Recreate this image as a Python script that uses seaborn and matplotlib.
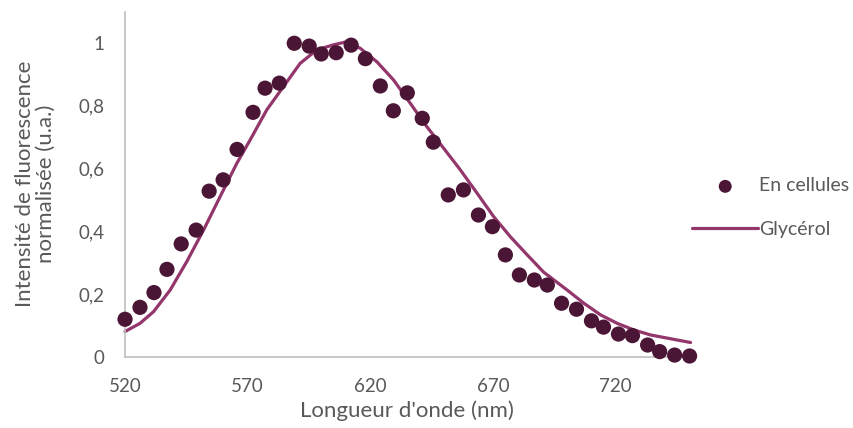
import pandas as pd
import matplotlib.pyplot as plt
import seaborn as sns

# --- data ---
cell_nm = [520.0, 526.1, 531.8, 537.1, 542.9, 549.0, 554.3, 560.0, 565.7, 572.2,
           577.1, 582.9, 589.0, 595.1, 600.0, 606.1, 612.2, 618.0, 624.1, 629.4,
           635.1, 641.2, 645.7, 651.8, 658.0, 664.1, 669.8, 675.1, 680.8, 686.9,
           692.2, 698.0, 704.1, 710.2, 715.1, 721.2, 726.9, 733.1, 738.0, 744.1,
           750.2]
cell_int = [0.120, 0.158, 0.205, 0.279, 0.360, 0.404, 0.528, 0.564, 0.661, 0.779,
            0.856, 0.872, 0.999, 0.990, 0.965, 0.969, 0.993, 0.950, 0.863, 0.784,
            0.841, 0.760, 0.684, 0.516, 0.532, 0.452, 0.415, 0.325, 0.261, 0.245,
            0.229, 0.171, 0.152, 0.115, 0.095, 0.073, 0.068, 0.038, 0.017, 0.006,
            0.003]

glyc_nm = [520.0, 526.1, 531.6, 538.4, 545.2, 552.0, 558.8, 565.6, 571.0, 577.8,
           584.6, 591.4, 598.2, 605.0, 610.5, 615.9, 622.7, 629.5, 636.3, 643.1,
           649.9, 656.7, 663.6, 670.3, 677.1, 684.0, 690.7, 700.3, 707.1, 713.9,
           720.7, 727.5, 734.3, 741.1, 750.6]
glyc_int = [0.081, 0.107, 0.144, 0.213, 0.304, 0.404, 0.511, 0.617, 0.691, 0.787,
            0.861, 0.935, 0.978, 0.994, 1.004, 0.983, 0.940, 0.882, 0.808, 0.733,
            0.665, 0.596, 0.521, 0.447, 0.383, 0.325, 0.270, 0.213, 0.171, 0.134,
            0.107, 0.086, 0.070, 0.060, 0.046]

x_ticks = [520, 570, 620, 670, 720]
y_ticks = [0, 0.2, 0.4, 0.6, 0.8, 1.0]
y_tick_labels = ['0', '0,2', '0,4', '0,6', '0,8', '1']

df_cells = pd.DataFrame({'nm': cell_nm, 'val': cell_int})
df_glyc = pd.DataFrame({'nm': glyc_nm, 'val': glyc_int})

sns.set_style('white')
plt.rcParams['font.family'] = ['Lato', 'DejaVu Sans']

grey = '#595959'
dot_color = '#4b1535'
line_color = '#93366b'

fig = plt.figure(figsize=(8.54, 4.28), dpi=100)
ax = fig.add_axes([0.1464, 0.166, 0.6605, 0.807])

sns.lineplot(data=df_glyc, x='nm', y='val', ax=ax, color=line_color,
             linewidth=2.3, label='Glycérol', zorder=2, clip_on=False)
sns.scatterplot(data=df_cells, x='nm', y='val', ax=ax, color=dot_color,
                s=120, edgecolor='none', label='En cellules', zorder=3,
                clip_on=False)

ax.set_xlim(520, 750)
ax.set_ylim(0, 1.1)
ax.set_xticks(x_ticks)
ax.set_yticks(y_ticks)
ax.set_yticklabels(y_tick_labels)
ax.tick_params(axis='both', length=0, labelsize=13.5, labelcolor=grey)
ax.tick_params(axis='x', pad=15)
ax.tick_params(axis='y', pad=15)

for side in ['top', 'right']:
    ax.spines[side].set_visible(False)
for side in ['left', 'bottom']:
    ax.spines[side].set_color('#bfbfbf')
    ax.spines[side].set_linewidth(1.2)

ax.set_xlabel("Longueur d'onde (nm)", fontsize=16, color=grey, labelpad=4)
ax.set_ylabel('Intensité de fluorescence\nnormalisée (u.a.)', fontsize=16,
              color=grey, labelpad=16, linespacing=1.05)

handles, labels = ax.get_legend_handles_labels()
order = [labels.index('En cellules'), labels.index('Glycérol')]
leg = ax.legend([handles[i] for i in order], [labels[i] for i in order],
                loc='center left', bbox_to_anchor=(0.79, 0.515),
                bbox_transform=fig.transFigure, frameon=False, fontsize=14,
                handlelength=3.4, handletextpad=0.05, labelspacing=1.35,
                markerscale=0.85)
for t in leg.get_texts():
    t.set_color(grey)

fig.savefig('out.png', dpi=100)
